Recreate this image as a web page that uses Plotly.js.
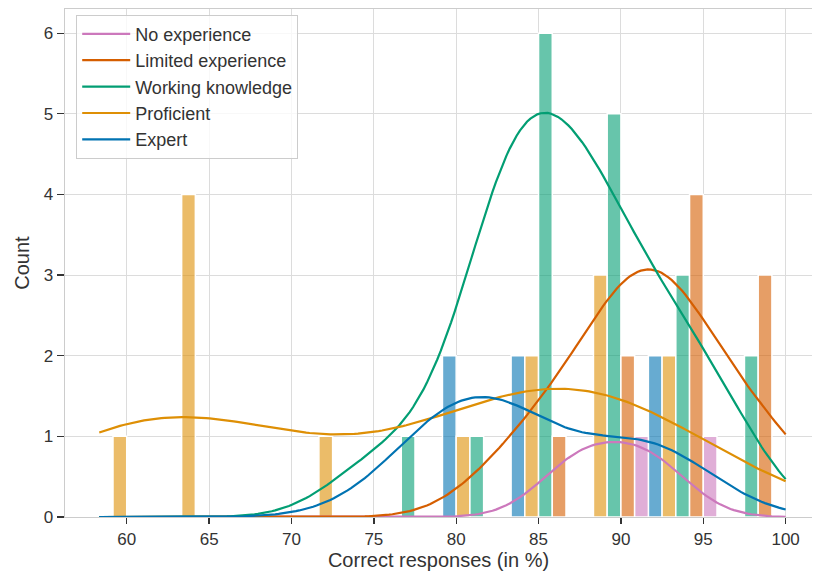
<!DOCTYPE html>
<html>
<head>
<meta charset="utf-8">
<script src="https://cdn.plot.ly/plotly-3.0.1.min.js"></script>
<style>
  html, body { margin: 0; padding: 0; background: #fff; overflow: hidden; }
  #chart { width: 813px; height: 573px; }
</style>
</head>
<body>
<div id="chart"></div>
<script>
// Scores per experience level, in percent of correct responses (24 questions)
const expert = [79.17, 79.17, 83.33, 83.33, 91.67, 91.67];
const proficient = [58.33, 62.5, 62.5, 62.5, 62.5, 70.83, 79.17, 83.33, 83.33,
                    87.5, 87.5, 87.5, 91.67, 91.67];
const working = [75, 79.17, 83.33, 83.33, 83.33, 83.33, 83.33, 83.33,
                 87.5, 87.5, 87.5, 87.5, 87.5, 91.67, 91.67, 91.67, 95.83, 95.83];
const limited = [83.33, 87.5, 87.5, 91.67, 91.67, 91.67, 91.67, 95.83, 95.83, 100];
const noExperience = [87.5, 91.67];

// Bars are dodged in this order inside each bin
const groupNames = ['Expert', 'Proficient', 'Working knowledge', 'Limited experience', 'No experience'];
const groupData = [expert, proficient, working, limited, noExperience];
const groupColors = ['#0173b2', '#de8f05', '#029e73', '#d55e00', '#cc78bc'];
const binCount = 10;
const xTicks = [60, 65, 70, 75, 80, 85, 90, 95, 100];
const yTicks = [0, 1, 2, 3, 4, 5, 6];

function rgba(hex, a) {
  const n = parseInt(hex.slice(1), 16);
  return `rgba(${(n >> 16) & 255},${(n >> 8) & 255},${n & 255},${a})`;
}

const all = groupData.flat();
const lo = Math.min(...all), hi = Math.max(...all);
const binWidth = (hi - lo) / binCount;
const binCenters = Array.from({length: binCount}, (_, i) => lo + (i + 0.5) * binWidth);

function histogram(values) {
  const counts = new Array(binCount).fill(0);
  values.forEach(v => {
    const i = Math.min(binCount - 1, Math.floor((v - lo) / binWidth + 0.01));
    counts[i] += 1;
  });
  return counts.map(c => (c === 0 ? null : c));
}

// Gaussian KDE with Scott's rule, scaled to counts per bin
const gridSize = 200;
const grid = Array.from({length: gridSize}, (_, i) => lo + (hi - lo) * i / (gridSize - 1));
function kdeCurve(values) {
  const n = values.length;
  const mean = values.reduce((a, b) => a + b, 0) / n;
  const variance = values.reduce((a, b) => a + (b - mean) ** 2, 0) / (n - 1);
  const sigma = Math.sqrt(variance) * Math.pow(n, -0.2);
  const norm = 1 / (Math.sqrt(2 * Math.PI) * sigma);
  return grid.map(x => {
    let s = 0;
    values.forEach(v => { const z = (x - v) / sigma; s += Math.exp(-0.5 * z * z); });
    return s * norm * binWidth;
  });
}

const traces = [];
groupData.forEach((vals, g) => {
  traces.push({
    type: 'bar',
    x: binCenters,
    y: histogram(vals),
    name: groupNames[g],
    showlegend: false,
    hoverinfo: 'skip',
    marker: { color: rgba(groupColors[g], 0.6), line: { color: '#ffffff', width: 1.5 } }
  });
});
// Density lines, listed in legend order
[4, 3, 2, 1, 0].forEach(g => {
  traces.push({
    type: 'scatter',
    mode: 'lines',
    x: grid,
    y: kdeCurve(groupData[g]),
    name: groupNames[g],
    line: { color: groupColors[g], width: 2.2 }
  });
});

const family = 'Arial, "Liberation Sans", sans-serif';
const tickFont = { family: family, size: 17, color: '#333333' };
const titleFont = { family: family, size: 20, color: '#333333' };
const layout = {
  width: 813,
  height: 573,
  margin: { l: 65, r: 1, t: 9, b: 56 },
  paper_bgcolor: '#ffffff',
  plot_bgcolor: '#ffffff',
  barmode: 'group',
  bargap: 0,
  bargroupgap: 0,
  font: tickFont,
  xaxis: {
    range: [56.25, 101.6],
    tickvals: xTicks,
    ticktext: xTicks.map(String),
    tickfont: tickFont,
    showgrid: true, gridcolor: '#dcdcdc', gridwidth: 1,
    zeroline: false,
    showline: true, linecolor: '#cccccc', linewidth: 1.3, mirror: true,
    ticks: 'outside', ticklen: 6, tickwidth: 1.3, tickcolor: '#333333',
    title: { text: 'Correct responses (in %)', font: titleFont, standoff: 5 }
  },
  yaxis: {
    range: [0, 6.3],
    tickvals: yTicks,
    tickfont: tickFont,
    showgrid: true, gridcolor: '#dcdcdc', gridwidth: 1,
    zeroline: false,
    showline: true, linecolor: '#cccccc', linewidth: 1.3,
    ticks: 'outside', ticklen: 7, tickwidth: 1.3, tickcolor: '#333333',
    title: { text: 'Count', font: titleFont, standoff: 8 }
  },
  legend: {
    x: 0.015, y: 0.989, xanchor: 'left', yanchor: 'top',
    bgcolor: 'rgba(255,255,255,0.8)', bordercolor: '#cccccc', borderwidth: 1,
    itemwidth: 48,
    font: { family: family, size: 18, color: '#333333' }
  },
  showlegend: true
};

Plotly.newPlot('chart', traces, layout, { displayModeBar: false, staticPlot: true });
</script>
</body>
</html>
